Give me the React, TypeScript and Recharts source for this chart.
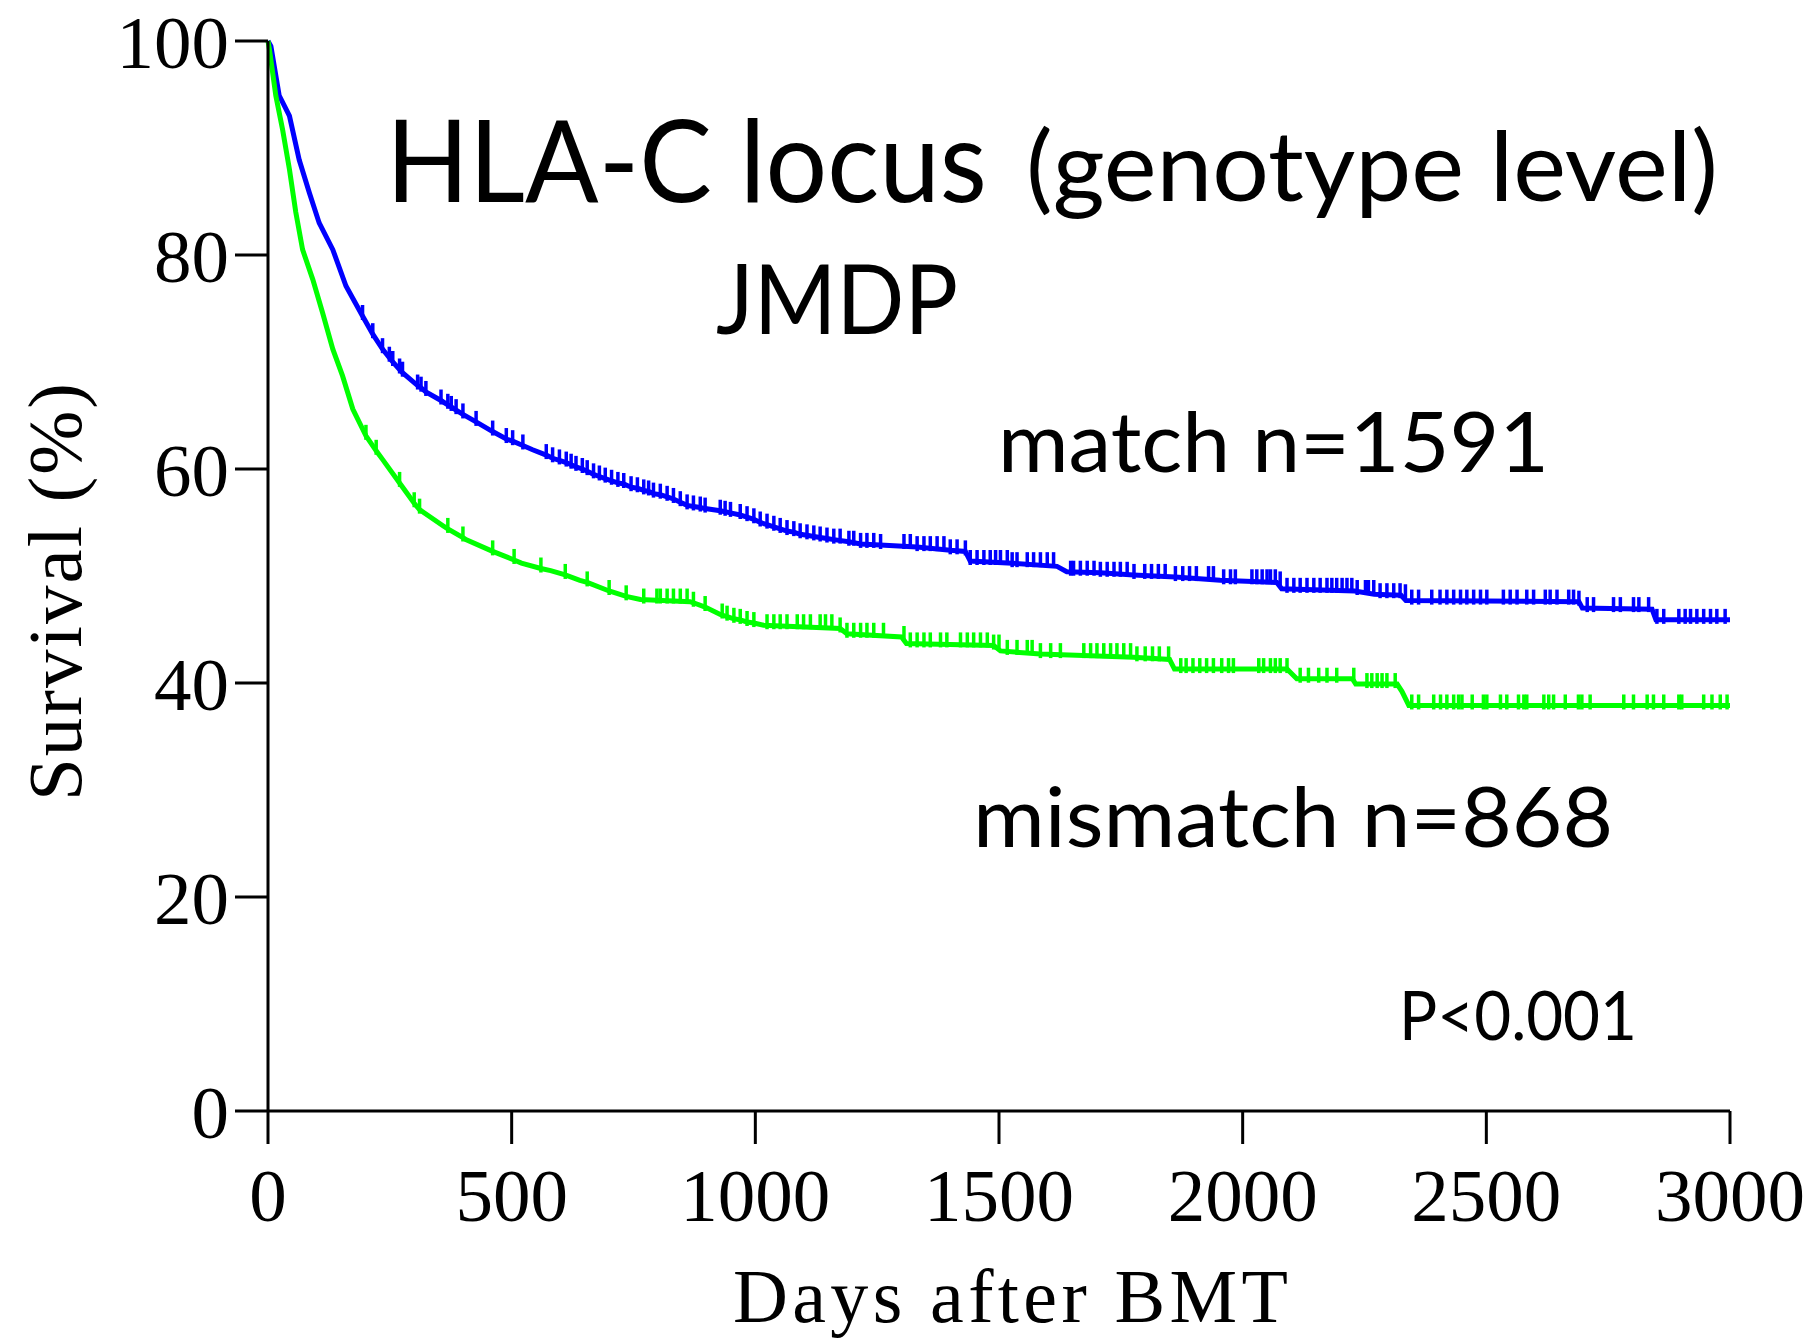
import React from "react";
import { ComposedChart, Line, Scatter, XAxis, YAxis } from "recharts";

const xTicks = [0, 500, 1000, 1500, 2000, 2500, 3000];
const yTicks = [0, 20, 40, 60, 80, 100];

// [day, survival %]
const matchCurve: [number, number][] = [
  [0, 100], [6, 99.5], [23, 94.9], [44, 93.0], [64, 88.9], [85, 85.8], [105, 83.0],
  [133, 80.5], [160, 77.1], [194, 74.3], [215, 72.6], [235, 71.2], [249, 70.4],
  [256, 70.0], [270, 69.3], [276, 69.0], [307, 67.8], [314, 67.6], [324, 67.2],
  [355, 66.4], [369, 66.0], [376, 65.8], [386, 65.5], [400, 65.1], [427, 64.4],
  [461, 63.5], [489, 62.8], [502, 62.6], [523, 62.2], [543, 61.8], [571, 61.3],
  [584, 61.0], [598, 60.8], [612, 60.6], [622, 60.4], [632, 60.2], [645, 60.0],
  [655, 59.8], [668, 59.5], [680, 59.3], [692, 59.1], [705, 58.9], [718, 58.7],
  [730, 58.6], [745, 58.3], [758, 58.2], [771, 58.0], [781, 57.9], [791, 57.7],
  [805, 57.6], [819, 57.4], [832, 57.2], [846, 56.9], [860, 56.6], [873, 56.5],
  [887, 56.4], [897, 56.3], [928, 56.1], [938, 56.0], [949, 55.9], [969, 55.7],
  [983, 55.5], [997, 55.3], [1010, 55.0], [1024, 54.8], [1038, 54.6], [1051, 54.4],
  [1065, 54.2], [1079, 54.1], [1092, 53.9], [1106, 53.8], [1120, 53.7], [1133, 53.6],
  [1147, 53.5], [1161, 53.4], [1192, 53.2], [1216, 53.0], [1256, 52.9], [1332, 52.7],
  [1400, 52.4], [1431, 52.3], [1441, 51.4], [1527, 51.2], [1619, 50.9], [1639, 50.4],
  [1708, 50.3], [1776, 50.1], [1862, 49.9], [1954, 49.6], [2070, 49.4], [2080, 48.8],
  [2230, 48.6], [2270, 48.3], [2325, 48.2], [2335, 47.7], [2690, 47.6], [2697, 47.0],
  [2840, 46.9], [2848, 45.9], [3000, 45.9],
];

const mismatchCurve: [number, number][] = [
  [0, 100], [3, 99.2], [16, 94.9], [30, 91.7], [44, 88.0], [57, 84.0], [71, 80.5],
  [92, 77.7], [112, 74.6], [133, 71.2], [153, 68.7], [174, 65.6], [201, 63.1],
  [222, 61.7], [235, 60.9], [270, 58.7], [300, 56.8], [311, 56.2], [359, 54.7],
  [369, 54.4], [400, 53.6], [406, 53.4], [461, 52.3], [505, 51.5], [520, 51.2],
  [560, 50.7], [580, 50.5], [610, 50.1], [640, 49.6], [655, 49.4], [700, 48.6],
  [735, 48.1], [764, 47.8], [866, 47.6], [873, 47.5], [897, 47.1], [928, 46.4],
  [942, 46.2], [956, 46.0], [969, 45.9], [983, 45.7], [997, 45.6], [1017, 45.4],
  [1174, 45.1], [1188, 44.6], [1300, 44.3], [1310, 43.7], [1489, 43.5], [1503, 43.0],
  [1585, 42.7], [1776, 42.4], [1850, 42.2], [1860, 41.3], [2091, 41.3], [2111, 40.4],
  [2225, 40.4], [2232, 39.9], [2317, 39.9], [2327, 39.2], [2341, 37.9], [3000, 37.9],
];

// censored observations (days)
const matchCensored = [
  194, 215, 235, 249, 256, 270, 276, 307, 314, 324, 355, 369, 376, 386, 400, 427, 461,
  489, 502, 523, 571, 584, 598, 612, 622, 632, 645, 655, 668, 680, 692, 705, 718, 730,
  745, 758, 771, 781, 791, 805, 819, 832, 846, 860, 873, 887, 897, 928, 938, 949, 969,
  983, 997, 1010, 1024, 1038, 1051, 1065, 1079, 1092, 1106, 1120, 1133, 1147, 1161,
  1174, 1192, 1202, 1216, 1229, 1243, 1257, 1305, 1318, 1332, 1346, 1359, 1373, 1387,
  1400, 1414, 1431, 1441, 1455, 1469, 1482, 1493, 1503, 1517, 1527, 1537, 1558, 1571,
  1585, 1599, 1612, 1647, 1653, 1667, 1681, 1695, 1708, 1722, 1736, 1749, 1763, 1777,
  1799, 1813, 1827, 1841, 1862, 1877, 1891, 1905, 1930, 1940, 1961, 1975, 1985, 2019,
  2029, 2040, 2050, 2057, 2067, 2077, 2091, 2105, 2118, 2132, 2146, 2159, 2173, 2183,
  2193, 2204, 2214, 2224, 2235, 2252, 2258, 2269, 2282, 2296, 2310, 2323, 2334, 2347,
  2361, 2388, 2405, 2419, 2433, 2447, 2460, 2474, 2488, 2501, 2535, 2549, 2563, 2583,
  2597, 2621, 2631, 2645, 2669, 2679, 2690, 2707, 2720, 2761, 2775, 2802, 2813, 2833,
  2850, 2864, 2895, 2908, 2919, 2932, 2946, 2960, 2973, 2990,
];

const mismatchCensored = [
  201, 222, 270, 300, 311, 369, 400, 461, 505, 560, 610, 655, 700, 735, 771, 798, 805,
  819, 832, 846, 860, 873, 897, 932, 942, 956, 969, 983, 997, 1024, 1038, 1051, 1065,
  1086, 1099, 1113, 1133, 1144, 1157, 1174, 1188, 1202, 1216, 1229, 1243, 1263, 1305,
  1318, 1332, 1346, 1359, 1380, 1393, 1421, 1435, 1448, 1462, 1476, 1489, 1500, 1517,
  1537, 1558, 1568, 1585, 1606, 1626, 1674, 1688, 1701, 1715, 1729, 1742, 1756, 1770,
  1783, 1800, 1815, 1829, 1848, 1873, 1884, 1898, 1912, 1926, 1940, 1957, 1971, 1981,
  2033, 2043, 2057, 2067, 2077, 2091, 2118, 2135, 2156, 2173, 2193, 2228, 2255, 2265,
  2276, 2286, 2296, 2313, 2347, 2361, 2392, 2406, 2419, 2433, 2443, 2450, 2471, 2494,
  2501, 2529, 2542, 2566, 2577, 2583, 2618, 2628, 2638, 2662, 2689, 2696, 2713, 2782,
  2802, 2830, 2843, 2864, 2895, 2901, 2946, 2963, 2980, 2994,
];

const BLUE = "#0000ff";
const GREEN = "#00ff00";
const SERIF = "'Liberation Serif', 'Times New Roman', serif";
const SANS = "Lato, 'Open Sans', sans-serif";

const toRows = (pts: [number, number][]) => pts.map(([day, surv]) => ({ day, surv }));

// level of the curve at the last read point on or before t
function levelAt(curve: [number, number][], t: number) {
  let v = curve[0][1];
  for (const [d, s] of curve) {
    if (d <= t) v = s;
    else break;
  }
  return v;
}

const censorRows = (curve: [number, number][], days: number[]) =>
  days.map((day) => ({ day, surv: levelAt(curve, day) }));

const censorMark = (color: string) => (p: any) =>
  <line x1={p.cx} x2={p.cx} y1={p.cy - 11} y2={p.cy + 4} stroke={color} strokeWidth={3.5} />;

const axisStroke = { stroke: "#000", strokeWidth: 3 };
const tickFont = { fontFamily: SERIF, fontSize: 75, fill: "#000" };

export default function App() {
  return (
    <div style={{ position: "absolute", left: 0, top: 0, width: 1820, height: 1340, background: "#fff" }}>
      <ComposedChart
        width={1820}
        height={1340}
        margin={{ top: 41, right: 90, bottom: 129, left: 68 }}
      >
        <XAxis
          type="number"
          dataKey="day"
          domain={[0, 3000]}
          ticks={xTicks}
          interval={0}
          height={100}
          tickSize={33}
          tickMargin={24}
          axisLine={axisStroke}
          tickLine={axisStroke}
          tick={tickFont}
        />
        <YAxis
          type="number"
          dataKey="surv"
          domain={[0, 100]}
          ticks={yTicks}
          interval={0}
          width={200}
          tickSize={33}
          tickMargin={6}
          axisLine={axisStroke}
          tickLine={axisStroke}
          tick={tickFont}
        />
        <Line
          data={toRows(matchCurve)}
          dataKey="surv"
          type="linear"
          stroke={BLUE}
          strokeWidth={5}
          dot={false}
          isAnimationActive={false}
        />
        <Scatter
          data={censorRows(matchCurve, matchCensored)}
          dataKey="surv"
          shape={censorMark(BLUE)}
          isAnimationActive={false}
        />
        <Line
          data={toRows(mismatchCurve)}
          dataKey="surv"
          type="linear"
          stroke={GREEN}
          strokeWidth={5}
          dot={false}
          isAnimationActive={false}
        />
        <Scatter
          data={censorRows(mismatchCurve, mismatchCensored)}
          dataKey="surv"
          shape={censorMark(GREEN)}
          isAnimationActive={false}
        />
      </ComposedChart>

      <svg
        width={1820}
        height={1340}
        style={{ position: "absolute", left: 0, top: 0, pointerEvents: "none" }}
      >
        <text x={386} y={202} fontFamily={SANS} fontSize={115} textLength={601} lengthAdjust="spacingAndGlyphs">
          HLA-C locus
        </text>
        <text x={1026} y={201} fontFamily={SANS} fontSize={96} textLength={692} lengthAdjust="spacingAndGlyphs">
          (genotype level)
        </text>
        <text x={716} y={334} fontFamily={SANS} fontSize={97} textLength={242} lengthAdjust="spacingAndGlyphs">
          JMDP
        </text>
        <text x={998} y={472} fontFamily={SANS} fontSize={84} textLength={551} lengthAdjust="spacingAndGlyphs">
          match n=1591
        </text>
        <text x={973} y={847} fontFamily={SANS} fontSize={84} textLength={640} lengthAdjust="spacingAndGlyphs">
          mismatch n=868
        </text>
        <text x={1399} y={1040} fontFamily={SANS} fontSize={68} textLength={238} lengthAdjust="spacingAndGlyphs">
          P&lt;0.001
        </text>
        <text x={733} y={1322} fontFamily={SERIF} fontSize={76} textLength={555} lengthAdjust="spacing">
          Days after BMT
        </text>
        <text
          x={0}
          y={0}
          transform="translate(81,801) rotate(-90)"
          fontFamily={SERIF}
          fontSize={77}
          textLength={418}
          lengthAdjust="spacing"
        >
          Survival (%)
        </text>
      </svg>
    </div>
  );
}
